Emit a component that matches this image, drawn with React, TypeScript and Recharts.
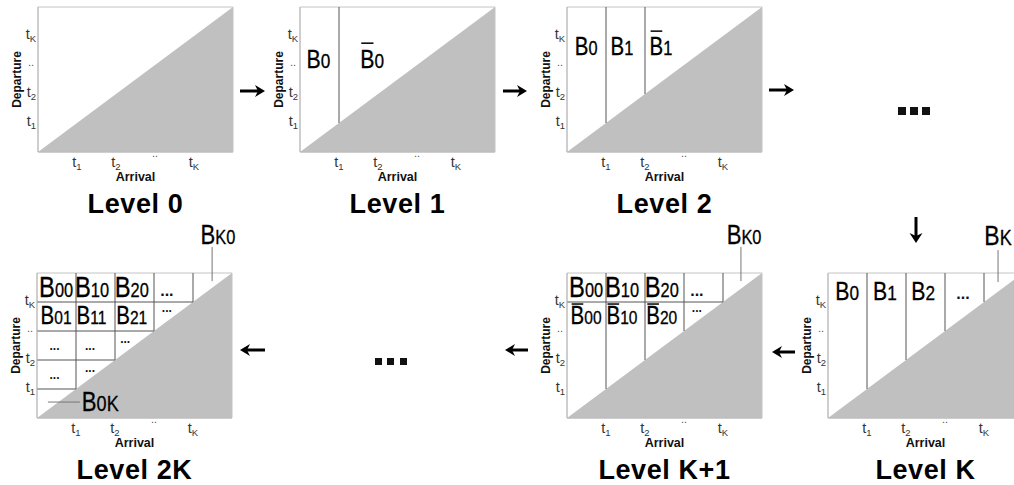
import React from 'react';
import { ComposedChart, Area, XAxis, YAxis, ReferenceArea, ReferenceLine, ReferenceDot } from 'recharts';

const FONT = "'Liberation Sans', Arial, Helvetica, sans-serif";
const T_MAX = 5;

// arrival / departure share one discretised time scale
const triangle = [
  { arrival: 0, departure: 0 },
  { arrival: T_MAX, departure: T_MAX },
];
const timeTicks = [1, 2, 3, 4];
const timeTickNames = ['1', '2', '..', 'K'];

// bucket boundaries: vertical cuts on arrival, horizontal cuts on departure
const level1Cuts = [1];
const level2Cuts = [1, 2];
const levelKCuts = [1, 2, 3, 4];
const levelK1Cuts = [1, 2, 3, 4];
const levelK1Rows = [4];
const level2KCuts = [1, 2, 3, 4];
const level2KRows = [1, 2, 3, 4];

type Bucket = { sub: string; bar?: boolean; arrival: number; departure: number };
type Pt = { arrival: number; departure: number };
type Leader = [Pt, Pt];

const level1Buckets: Bucket[] = [
  { sub: '0', arrival: 0.47, departure: 2.9 },
  { sub: '0', bar: true, arrival: 1.85, departure: 2.9 },
];
const level2Buckets: Bucket[] = [
  { sub: '0', arrival: 0.49, departure: 3.34 },
  { sub: '1', arrival: 1.41, departure: 3.34 },
  { sub: '1', bar: true, arrival: 2.41, departure: 3.34 },
];
const levelKBuckets: Bucket[] = [
  { sub: '0', arrival: 0.49, departure: 4.07 },
  { sub: '1', arrival: 1.46, departure: 4.07 },
  { sub: '2', arrival: 2.44, departure: 4.07 },
];
const levelKDots: Pt[] = [{ arrival: 3.46, departure: 4.1 }];
const levelKTag: Bucket[] = [{ sub: 'K', arrival: 4.36, departure: 5.97 }];
const levelKLeader: Leader[] = [[{ arrival: 4.36, departure: 4.69 }, { arrival: 4.36, departure: 5.79 }]];

const levelK1Top: Bucket[] = [
  { sub: '00', arrival: 0.49, departure: 4.17 },
  { sub: '10', arrival: 1.41, departure: 4.17 },
  { sub: '20', arrival: 2.43, departure: 4.17 },
];
const levelK1Second: Bucket[] = [
  { sub: '00', bar: true, arrival: 0.49, departure: 3.24 },
  { sub: '10', bar: true, arrival: 1.41, departure: 3.24 },
  { sub: '20', bar: true, arrival: 2.43, departure: 3.24 },
];
const levelK1Dots: Pt[] = [{ arrival: 3.33, departure: 4.2 }];
const levelK1SmallDots: Pt[] = [{ arrival: 3.33, departure: 3.66 }];
const levelK1Tag: Bucket[] = [{ sub: 'K0', arrival: 4.54, departure: 6.0 }];
const levelK1Leader: Leader[] = [[{ arrival: 4.46, departure: 4.72 }, { arrival: 4.46, departure: 5.9 }]];

const level2KTop: Bucket[] = [
  { sub: '00', arrival: 0.49, departure: 4.17 },
  { sub: '10', arrival: 1.41, departure: 4.17 },
  { sub: '20', arrival: 2.43, departure: 4.17 },
];
const level2KSecond: Bucket[] = [
  { sub: '01', arrival: 0.49, departure: 3.24 },
  { sub: '11', arrival: 1.41, departure: 3.24 },
  { sub: '21', arrival: 2.43, departure: 3.24 },
];
const level2KDots: Pt[] = [{ arrival: 3.33, departure: 4.2 }];
const level2KSmallDots: Pt[] = [
  { arrival: 3.33, departure: 3.66 },
  { arrival: 0.45, departure: 2.34 },
  { arrival: 1.36, departure: 2.34 },
  { arrival: 2.26, departure: 2.6 },
  { arrival: 0.45, departure: 1.33 },
  { arrival: 1.36, departure: 1.6 },
];
const level2KCorner: Bucket[] = [{ sub: '0K', arrival: 1.15, departure: 0.24 }];
const level2KTag: Bucket[] = [{ sub: 'K0', arrival: 4.64, departure: 6.0 }];
const level2KLeaders: Leader[] = [
  [{ arrival: 4.49, departure: 4.72 }, { arrival: 4.49, departure: 5.9 }],
  [{ arrival: 0.28, departure: 0.55 }, { arrival: 1.1, departure: 0.55 }],
];

const SX = 0.82;
const charW = (ch: string) => (ch === 'K' ? 0.667 : 0.556);

function BucketLabel({ cx, cy, b, size, subSize, barGap, align }: any) {
  const bw = 0.667 * size * SX;
  const sw = b.sub.split('').reduce((w: number, ch: string) => w + charW(ch) * subSize * SX, 0);
  const x0 = align === 'start' ? cx : cx - (bw + sw) / 2;
  const by = cy - size * 0.72 - barGap;
  return (
    <g>
      <text transform={`translate(${x0},${cy}) scale(${SX},1)`} fontFamily={FONT} fontSize={size} fill="#000" stroke="#000" strokeWidth={0.3}>
        B<tspan fontSize={subSize}>{b.sub}</tspan>
      </text>
      {b.bar && <line x1={x0 + 1} x2={x0 + bw - 1} y1={by} y2={by} stroke="#111" strokeWidth={1.6} />}
    </g>
  );
}

function XTick({ x, y, payload }: any) {
  const name = timeTickNames[timeTicks.indexOf(payload.value)];
  if (name === '..')
    return <text x={x} y={y + 5} textAnchor="middle" fontSize={11} fill="#555" fontFamily={FONT}>..</text>;
  return (
    <text x={x} y={y + 15} textAnchor="middle" fontSize={14.5} fill="#333" fontFamily={FONT}>
      t<tspan fontSize={9.5} dy={3}>{name}</tspan>
    </text>
  );
}

function YTick({ x, y, payload }: any) {
  const name = timeTickNames[timeTicks.indexOf(payload.value)];
  if (name === '..')
    return <text x={x - 4} y={y + 1} textAnchor="end" fontSize={11} fill="#555" fontFamily={FONT}>..</text>;
  return (
    <text x={x - 2} y={y + 3} textAnchor="end" fontSize={14.5} fill="#333" fontFamily={FONT}>
      t<tspan fontSize={9.5} dy={3}>{name}</tspan>
    </text>
  );
}

const PLOT_W = 195;
const PLOT_H = 145;

function Ellipsis({ pts, size, prefix }: any) {
  return pts.map((d: Pt, i: number) => (
    <ReferenceDot
      key={prefix + i}
      x={d.arrival}
      y={d.departure}
      r={0}
      ifOverflow="visible"
      shape={(p: any) => (
        <text x={p.cx} y={p.cy} textAnchor="middle" fontSize={size} fontWeight="bold" fill="#111" fontFamily={FONT}>...</text>
      )}
    />
  ));
}

function Panel(props: any) {
  const {
    left, top, mTop, title, cuts = [], rows = [], groups = [], dots = [], smallDots = [], leaders = [],
  } = props;
  const width = 18 + 20 + PLOT_W + 20;
  const height = mTop + PLOT_H + 35 + 35;
  return (
    <div style={{ position: 'absolute', left, top }}>
      <ComposedChart width={width} height={height} data={triangle} margin={{ top: mTop, right: 20, bottom: 35, left: 18 }}>
        <XAxis
          dataKey="arrival"
          type="number"
          domain={[0, T_MAX]}
          ticks={timeTicks}
          tick={(p: any) => <XTick {...p} />}
          tickLine={false}
          tickSize={0}
          tickMargin={0}
          axisLine={{ stroke: '#bbb' }}
          height={35}
          label={{
            content: (p: any) => {
              const vb = p.viewBox || { x: 38, y: mTop + PLOT_H, width: PLOT_W };
              const cx = vb.x + vb.width / 2;
              return (
                <g fontFamily={FONT}>
                  <text x={cx} y={vb.y + 29} textAnchor="middle" fontSize={12.5} fontWeight="bold" fill="#111">Arrival</text>
                  <text x={cx} y={vb.y + 61} textAnchor="middle" fontSize={27} letterSpacing={0.6} fontWeight="bold" fill="#000">{title}</text>
                </g>
              );
            },
          }}
        />
        <YAxis
          dataKey="departure"
          type="number"
          domain={[0, T_MAX]}
          ticks={timeTicks}
          tick={(p: any) => <YTick {...p} />}
          tickLine={false}
          tickSize={0}
          tickMargin={0}
          axisLine={{ stroke: '#bbb' }}
          width={20}
          label={{
            content: (p: any) => {
              const vb = p.viewBox || { x: 18, y: mTop, width: 20, height: PLOT_H };
              const bx = vb.x + vb.width - 17;
              const cy = vb.y + vb.height / 2;
              return (
                <text x={bx} y={cy} transform={`rotate(-90 ${bx} ${cy})`} textAnchor="middle" fontSize={12} fontWeight="bold" fill="#111" fontFamily={FONT}>
                  Departure
                </text>
              );
            },
          }}
        />
        <Area
          type="linear"
          dataKey="departure"
          stroke="none"
          fill="#c0c0c0"
          fillOpacity={1}
          dot={false}
          activeDot={false}
          isAnimationActive={false}
        />
        <ReferenceArea x1={0} x2={T_MAX} y1={0} y2={T_MAX} fill="none" stroke="#c4c4c4" ifOverflow="visible" />
        {cuts.map((c: number) => (
          <ReferenceLine key={'v' + c} segment={[{ x: c, y: c }, { x: c, y: T_MAX }]} stroke="#555" strokeWidth={1} ifOverflow="visible" />
        ))}
        {rows.map((r: number) => (
          <ReferenceLine key={'h' + r} segment={[{ x: 0, y: r }, { x: r, y: r }]} stroke="#555" strokeWidth={1} ifOverflow="visible" />
        ))}
        {leaders.map((l: Leader, i: number) => (
          <ReferenceLine key={'l' + i} segment={[{ x: l[0].arrival, y: l[0].departure }, { x: l[1].arrival, y: l[1].departure }]} stroke="#777" strokeWidth={1} ifOverflow="visible" />
        ))}
        {Ellipsis({ pts: dots, size: 16, prefix: 'd' })}
        {Ellipsis({ pts: smallDots, size: 12, prefix: 's' })}
        {groups.map((g: any, gi: number) =>
          g.items.map((b: Bucket, i: number) => (
            <ReferenceDot
              key={'b' + gi + '-' + i}
              x={b.arrival}
              y={b.departure}
              r={0}
              ifOverflow="visible"
              shape={(p: any) => (
                <BucketLabel cx={p.cx} cy={p.cy} b={b} size={g.size} subSize={g.sub} barGap={g.gap ?? 4} align={g.align} />
              )}
            />
          ))
        )}
      </ComposedChart>
    </div>
  );
}

function ArrowH({ x1, x2, y }: any) {
  const d = x2 > x1 ? 1 : -1;
  const hx = x2 - d * 10;
  return (
    <g fill="#000">
      <line x1={x1} x2={x2 - d * 5} y1={y} y2={y} stroke="#000" strokeWidth={3} />
      <polygon points={`${x2},${y} ${hx},${y - 6} ${x2 - d * 7},${y} ${hx},${y + 6}`} />
    </g>
  );
}

function ArrowDown({ x, y1, y2 }: any) {
  return (
    <g fill="#000">
      <line x1={x} x2={x} y1={y1} y2={y2 - 5} stroke="#000" strokeWidth={3} />
      <polygon points={`${x},${y2} ${x - 6.5},${y2 - 10} ${x},${y2 - 7} ${x + 6.5},${y2 - 10}`} />
    </g>
  );
}

export default function App() {
  return (
    <div style={{ position: 'absolute', left: 0, top: 0, width: 1014, height: 485, overflow: 'hidden', background: '#fff' }}>
      <Panel left={0} top={0} mTop={7} title="Level 0" />
      <Panel
        left={262}
        top={0}
        mTop={7}
        title="Level 1"
        cuts={level1Cuts}
        groups={[{ items: level1Buckets, size: 26, sub: 21, gap: 6 }]}
      />
      <Panel
        left={529}
        top={0}
        mTop={7}
        title="Level 2"
        cuts={level2Cuts}
        groups={[{ items: level2Buckets, size: 25, sub: 20, gap: 6 }]}
      />
      <Panel
        left={-1}
        top={213}
        mTop={60}
        title="Level 2K"
        cuts={level2KCuts}
        rows={level2KRows}
        dots={level2KDots}
        smallDots={level2KSmallDots}
        leaders={level2KLeaders}
        groups={[
          { items: level2KTop, size: 29, sub: 20 },
          { items: level2KSecond, size: 25, sub: 19 },
          { items: level2KCorner, size: 27, sub: 22, align: 'start' },
          { items: level2KTag, size: 27, sub: 20 },
        ]}
      />
      <Panel
        left={529}
        top={213}
        mTop={60}
        title="Level K+1"
        cuts={levelK1Cuts}
        rows={levelK1Rows}
        dots={levelK1Dots}
        smallDots={levelK1SmallDots}
        leaders={levelK1Leader}
        groups={[
          { items: levelK1Top, size: 29, sub: 20 },
          { items: levelK1Second, size: 25, sub: 19, gap: 2 },
          { items: levelK1Tag, size: 27, sub: 20 },
        ]}
      />
      <Panel
        left={790}
        top={213}
        mTop={60}
        title="Level K"
        cuts={levelKCuts}
        dots={levelKDots}
        leaders={levelKLeader}
        groups={[
          { items: levelKBuckets, size: 26, sub: 21 },
          { items: levelKTag, size: 28, sub: 22 },
        ]}
      />
      <svg width={1014} height={485} style={{ position: 'absolute', left: 0, top: 0, pointerEvents: 'none' }}>
        <ArrowH x1={240} x2={265} y={91} />
        <ArrowH x1={503} x2={527} y={91} />
        <ArrowH x1={769} x2={794} y={90} />
        <ArrowDown x={916} y1={217} y2={243} />
        <ArrowH x1={795} x2={772} y={352} />
        <ArrowH x1={528} x2={505} y={350} />
        <ArrowH x1={265} x2={240} y={350} />
        <g fill="#111">
          <rect x={898} y={107} width={8} height={8} />
          <rect x={910} y={107} width={8} height={8} />
          <rect x={922} y={107} width={8} height={8} />
          <rect x={375} y={358} width={7} height={7} />
          <rect x={387} y={358} width={7} height={7} />
          <rect x={400} y={358} width={7} height={7} />
        </g>
      </svg>
    </div>
  );
}
